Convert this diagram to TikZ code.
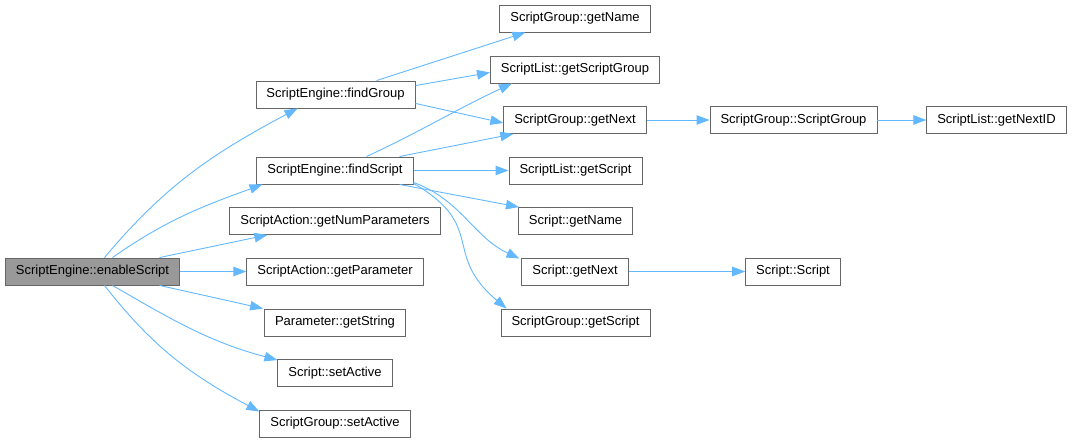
\documentclass[tikz,border=0pt]{standalone}
\usepackage{fontspec}
\setmainfont{Liberation Sans}
\usepackage{tikz}
\usetikzlibrary{arrows.meta,positioning}
\definecolor{edgeblue}{HTML}{63B8FF}
\definecolor{boxline}{HTML}{666666}
\definecolor{rootfill}{HTML}{999999}

\begin{document}
\begin{tikzpicture}[x=1pt, y=-1pt,
	every node/.style={draw=boxline, rectangle, line width=0.9pt, fill=white, minimum height=27pt, inner xsep=10.5pt, inner ysep=0pt, font=\fontsize{13}{15}\selectfont},
	root/.style={fill=rootfill},
	call/.style={-{Triangle[length=13pt, width=9.5pt]}, line width=0.9pt, color=edgeblue}
	]
	\useasboundingbox (0,0) rectangle (1074,443);

	% caller
	\node[root] (root) at (92.5,271.5) {ScriptEngine::enableScript};

	% first column
	\node (fgrp)   at (335.5,94.5)  {ScriptEngine::findGroup};
	\node (fscr)   at (335,170.5)   {ScriptEngine::findScript};
	\node (numpar) at (335,221)     {ScriptAction::getNumParameters};
	\node (getpar) at (335,271.5)   {ScriptAction::getParameter};
	\node (pstr)   at (335,322.5)   {Parameter::getString};
	\node (ssact)  at (335,373)     {Script::setActive};
	\node (gsact)  at (335,423.5)   {ScriptGroup::setActive};

	% second column
	\node (gname) at (575,18.5)   {ScriptGroup::getName};
	\node (lgrp)  at (575,69.5)   {ScriptList::getScriptGroup};
	\node (gnext) at (575,120)    {ScriptGroup::getNext};
	\node (lscr)  at (575.5,170.5) {ScriptList::getScript};
	\node (sname) at (575.5,221)  {Script::getName};
	\node (snext) at (575,271.5)  {Script::getNext};
	\node (gscr)  at (575.5,322.5) {ScriptGroup::getScript};

	% third and fourth column
	\node (gctor)  at (793.5,120)  {ScriptGroup::ScriptGroup};
	\node (sctor)  at (793,271.5)  {Script::Script};
	\node (nextid) at (996.5,120)  {ScriptList::getNextID};

	% calls of enableScript
	\draw[call] ([xshift=12pt]root.north) to[out=50, in=208] ([xshift=42pt]fgrp.south west);
	\draw[call] ([xshift=20pt]root.north) to[out=35, in=200] ([xshift=6pt]fscr.south west);
	\draw[call] ([xshift=67pt]root.north) -- ([xshift=38pt]numpar.south west);
	\draw[call] (root) -- (getpar);
	\draw[call] ([xshift=67pt]root.south) -- ([xshift=-1pt]pstr.north west);
	\draw[call] ([xshift=20pt]root.south) to[out=-30, in=165] ([yshift=-1pt]ssact.north west);
	\draw[call] ([xshift=12pt]root.south) to[out=-52, in=152] ([yshift=-2pt]gsact.north west);

	% calls of findGroup
	\draw[call] ([xshift=121pt]fgrp.north west) -- ([xshift=26pt]gname.south west);
	\draw[call] ([yshift=-5pt]fgrp.north east) -- ([yshift=-3pt]lgrp.west);
	\draw[call] ([yshift=5pt]fgrp.south east) -- ([yshift=-3pt]gnext.west);

	% calls of findScript
	\draw[call] ([xshift=110pt]fscr.north west) to[out=25, in=205] ([xshift=22pt]lgrp.south west);
	\draw[call] ([xshift=-14pt]fscr.north east) -- ([xshift=10pt]gnext.south west);
	\draw[call] (fscr) -- (lscr);
	\draw[call] ([xshift=-14pt]fscr.south east) -- ([xshift=1pt]sname.north west);
	\draw[call] ([yshift=2pt]fscr.south east) to[out=-20, in=155] ([yshift=-1pt, xshift=-2pt]snext.north west);
	\draw[call] ([yshift=1pt]fscr.south east) to[out=-30, in=140, looseness=1.4] ([xshift=6pt]gscr.north west);

	% deeper calls
	\draw[call] (gnext) -- (gctor);
	\draw[call] (gctor) -- (nextid);
	\draw[call] (snext) -- (sctor);

\end{tikzpicture}
\end{document}
